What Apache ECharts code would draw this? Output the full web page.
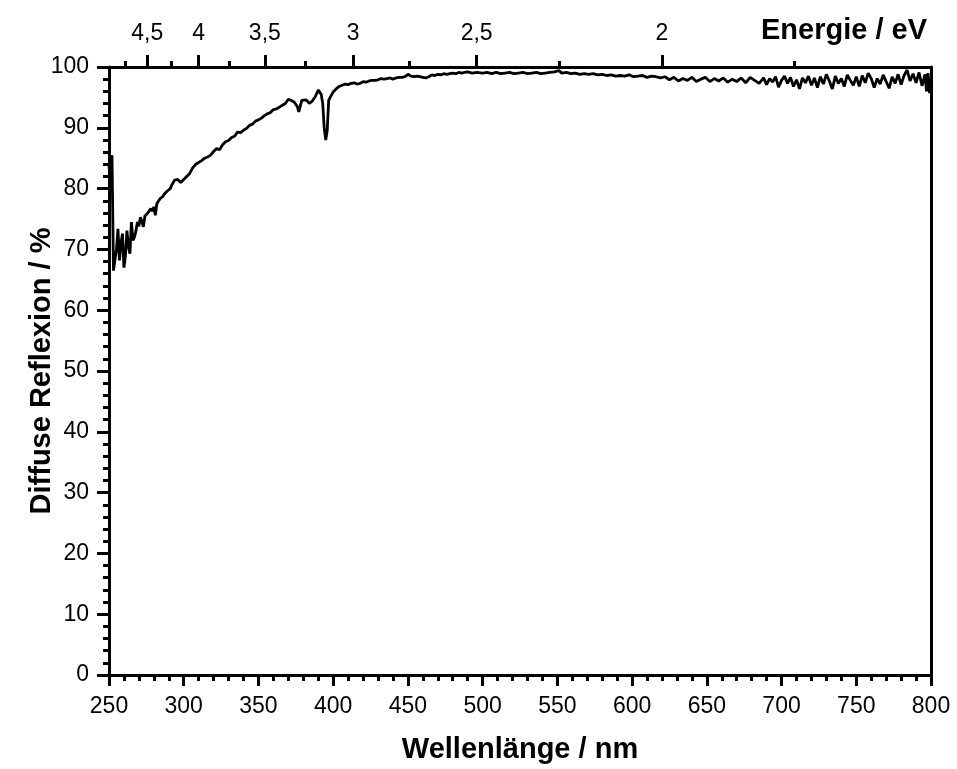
<!DOCTYPE html>
<html>
<head>
<meta charset="utf-8">
<script src="https://cdn.jsdelivr.net/npm/echarts@6/dist/echarts.min.js"></script>
<style>
html,body{margin:0;padding:0;background:#fff;}
#chart{width:957px;height:769px;}
</style>
</head>
<body>
<div id="chart"></div>
<script>
// Wavelength (nm), diffuse reflectance (%)
const spectrumUV = [
[250,84],[251,80],[252,85.5],[253,66.5],[254,66.2],[255,70],[256,73.4],[257,68.2],[258,71],[259,72.6],
[260,67],[261,69],[262,73.1],[263,70.5],[264,69.3],[265,74.5],[266,71.5],[267,72],[268,73],[269,74.5],
[270,73.8],[271,75.3],[272,74.6],[273,73.7],[274,75.5],[275,75.4],[276,76],[277,76.2],[278,76.7],[279,76.3],
[280,77],[281,75.6],[282,77.5],[283,77.8],[284,78.3],[285,78.1],[286,78.7],[287,79.1],[288,79],[289,79.6],
[290,79.8],[291,80],[292,80.6],[293,80.9],[294,81.4],[295,81.1],[296,81.5],[297,81.2],[298,81.0],[299,81.2],
[300,81.5],[302,82],[304,82.5],[306,83.4],[308,84],[310,84.3],[312,84.6],[314,85],[316,85.2],[318,85.5],
[320,86.1],[322,86.6],[324,86.4],[326,87.2],[328,87.7],[330,87.9],[332,88.4],[334,88.6],[336,89.3],[338,89.2],
[340,89.6],[342,89.9],[344,90.4],[346,90.6],[348,91.1],[350,91.3],[352,91.6],[354,92],[356,92.3],[358,92.5],
[360,93],[362,93.1],[364,93.4],[366,93.7],[368,94],[370,94.7],[372,94.5],[374,94.2],[376,93.5],[377,92.6],
[378,93.6],[379,94.5],[380,94.2],[382,94.6],[384,94],[386,94.4],[388,95.1],[390,96.2],[391,96.4],[392,95.5],
[393,94],[394,90],[395,88],[396,89.5],[397,94.5],[398,95],[399,95.3]
];
const spectrumVis = [
[400,95.9],[402,96.4],[404,96.8],[406,97],[408,97.2],[410,97.1],[412,97.3],[414,97.4],[416,97.2],[418,97.3],
[420,97.6],[422,97.5],[424,97.7],[426,97.8],[428,97.8],[430,97.9],[432,98.1],[434,98.0],[436,98.1],[438,98.2],
[440,98.0],[442,98.2],[444,98.3],[446,98.3],[448,98.4],[450,98.8],[452,98.5],[454,98.4],[456,98.5],[458,98.4],
[460,98.3],[462,98.2],[464,98.4],[466,98.7],[468,98.6],[470,98.8],[472,98.7],[474,98.9],[476,98.8],[478,98.9],
[480,99.0],[482,98.9],[484,99.1],[486,99.0],[488,99.1],[490,99.2],[493,99.0],[496,99.1],[500,99.0],[503,99.1],
[506,98.9],[509,99.1],[512,98.9],[515,99.0],[518,99.1],[521,98.9],[524,99.0],[527,99.1],[530,98.9],[533,99.0],
[536,99.1],[539,98.9],[542,99.0],[545,99.1],[548,99.2],[551,99.4],[553,99.0],[556,99.1],[559,98.9],[562,99.0],
[565,98.8],[568,98.9],[571,98.8],[574,98.9],[577,98.7],[580,98.8],[583,98.6],[586,98.7],[589,98.5],[592,98.6],
[595,98.5],[598,98.7],[601,98.4],[604,98.5],[607,98.6],[610,98.3],[613,98.5],[616,98.4],[619,98.2],[622,98.4],
[625,97.9],[628,98.3],[631,97.7],[634,98.1],[637,97.8],[640,98.3],[643,97.6],[646,98.0],[649,98.3],[652,97.6],
[655,98.1],[658,97.7],[661,98.2],[664,97.5],[667,98.0],[670,97.6],[673,98.2],[676,97.4],[679,98.3],[682,97.8],
[685,97.3],[688,98.2],[690,97.1],[692,98.1],[694,97.5],[696,98.4],[698,96.7],[700,97.8],[702,98.5],[704,97.3],
[706,98.3],[708,96.8],[710,97.9],[712,96.4],[714,98.2],[716,97.4],[718,98.5],[720,97.0],[722,98.2],[724,96.6],
[726,98.4],[728,97.2],[730,98.8],[732,97.7],[734,96.4],[736,98.5],[738,97.3],[740,98.1],[742,96.8],[744,98.7],
[746,97.8],[748,97.0],[750,98.4],[752,96.8],[754,98.6],[756,97.4],[758,99.0],[760,98.1],[762,96.6],[764,98.1],
[766,97.2],[768,98.7],[770,97.6],[772,96.5],[774,98.4],[776,97.3],[778,98.8],[780,97.1],[782,98.6],[784,99.5],
[786,97.7],[788,98.9],[790,97.4],[792,99.1],[794,96.9],[796,98.8],[797,96.0],[798,99.0],[799,95.7],[800,98.3]
];
const energyMajor = [4.5, 4, 3.5, 3, 2.5, 2];
const energyMinor = [4.75, 4.25, 3.75, 3.25, 2.75, 2.25, 1.75];
const hc = 1240; // eV*nm

const FONT = 'Liberation Sans, Arial, sans-serif';
const spectrum = spectrumUV.concat(spectrumVis);
const majorPos = energyMajor.map(e => hc / e);
const minorPos = energyMinor.map(e => hc / e);
const titleStyle = { fontFamily: FONT, fontWeight: 'bold', fontSize: 29, color: '#000' };
const lineBlack = { color: '#000', width: 3 };

const chart = echarts.init(document.getElementById('chart'));
chart.setOption({
  animation: false,
  backgroundColor: '#fff',
  title: {
    text: 'Energie / eV', right: 25, top: 11,
    textStyle: titleStyle
  },
  grid: { left: 109, right: 26, top: 67, bottom: 94 },
  xAxis: [
    {
      type: 'value', position: 'bottom', min: 250, max: 800, interval: 50,
      name: 'Wellenlänge / nm', nameLocation: 'middle', nameGap: 60, nameMoveOverlap: false,
      nameTextStyle: titleStyle,
      axisLine: { show: true, onZero: false, lineStyle: lineBlack },
      axisTick: { show: true, inside: false, length: 11, lineStyle: lineBlack },
      minorTick: { show: true, splitNumber: 5, length: 6, lineStyle: lineBlack },
      axisLabel: { margin: 20, fontFamily: FONT, fontSize: 23, color: '#000' },
      splitLine: { show: false }
    },
    {
      type: 'value', position: 'top', min: 250, max: 800,
      axisLine: { show: true, onZero: false, lineStyle: lineBlack },
      axisTick: { show: true, inside: false, length: 12, customValues: majorPos, lineStyle: lineBlack },
      axisLabel: {
        show: true, margin: 22, fontFamily: FONT, fontSize: 23, color: '#000',
        customValues: majorPos,
        formatter: v => String(Math.round(hc / v * 100) / 100).replace('.', ',')
      },
      splitLine: { show: false }
    },
    {
      type: 'value', position: 'top', min: 250, max: 800,
      axisLine: { show: false, onZero: false },
      axisTick: { show: true, inside: false, length: 6, customValues: minorPos, lineStyle: lineBlack },
      axisLabel: { show: false },
      splitLine: { show: false }
    }
  ],
  yAxis: [
    {
      type: 'value', position: 'left', min: 0, max: 100, interval: 10,
      name: 'Diffuse Reflexion / %', nameLocation: 'middle', nameGap: 53, nameRotate: 90, nameMoveOverlap: false,
      nameTextStyle: titleStyle,
      axisLine: { show: true, onZero: false, lineStyle: lineBlack },
      axisTick: { show: true, inside: false, length: 12, lineStyle: lineBlack },
      minorTick: { show: true, splitNumber: 5, length: 6, lineStyle: lineBlack },
      axisLabel: { margin: 20, fontFamily: FONT, fontSize: 23, color: '#000' },
      splitLine: { show: false }
    },
    {
      type: 'value', position: 'right', min: 0, max: 100,
      axisLine: { show: true, onZero: false, lineStyle: lineBlack },
      axisTick: { show: false }, axisLabel: { show: false }, splitLine: { show: false }
    }
  ],
  series: [{
    type: 'line', xAxisIndex: 0, yAxisIndex: 0,
    data: spectrum, showSymbol: false, symbol: 'none',
    lineStyle: { color: '#000', width: 2.8 },
    clip: true
  }]
});
</script>
</body>
</html>
